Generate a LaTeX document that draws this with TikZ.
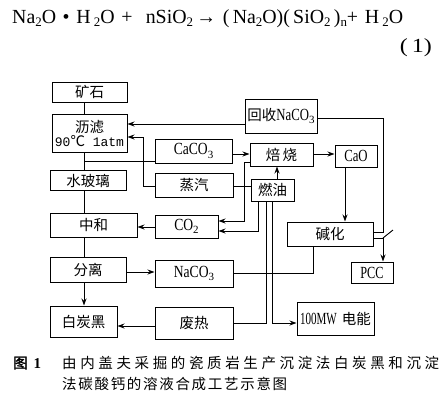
\documentclass[tikz,border=0pt]{standalone}
\usepackage{fontspec}
\usepackage{graphicx}
\setmainfont{Liberation Serif}
\newfontfamily\cjk{Noto Sans CJK SC}
\newfontfamily\cjkb[FakeBold=2]{Noto Sans CJK SC}
\newfontfamily\mono{Liberation Mono}
\usetikzlibrary{arrows.meta}
\newcommand\sbs[1]{\raisebox{-3.5pt}{\fontsize{11}{11}\selectfont #1}}
\newcommand\esb[1]{\raisebox{-3pt}{\fontsize{13}{13}\selectfont #1}}
\newcommand\lat[2]{\scalebox{#1}[1]{\fontsize{17}{19}\selectfont #2}}
\tikzset{
  bx/.style 2 args={draw, line width=1pt, minimum width=#1, minimum height=#2, inner sep=0pt, font=\fontsize{14.5}{17}\selectfont},
  ln/.style={line width=0.9pt},
  arr/.style={ln, -{Stealth[length=7pt,width=5pt]}}
}
\begin{document}
\begin{tikzpicture}[x=1pt,y=-1pt]
\useasboundingbox (0,0) rectangle (447,400);
\fill[white] (0,0) rectangle (447,400);
% equation
\node[anchor=west, inner sep=0pt] (eq) at (12,19) {\resizebox{391pt}{\height}{\fontsize{20}{22}\selectfont Na\esb{2}O\,\,•\,\,H\,\esb{2}O\,\,+\,\,\,\,nSiO\esb{2}\,→\,\,(\,Na\esb{2}O)(\,SiO\esb{2}\,)\esb{n}+\,\,H\,\esb{2}O}};
\node[anchor=east, inner sep=0pt] (eqn) at (432,48) {\resizebox{32pt}{\height}{\fontsize{20}{22}\selectfont (\,1)}};
% boxes
\node[bx={75pt}{20pt}] (kuang) at (89.5,92) {\cjk 矿石};
\node[bx={75pt}{38pt}, align=center] (lilv) at (89.5,133) {{\cjk 沥滤}\\[-3pt]{\mono\fontsize{13}{15}\selectfont 90}{\cjk ℃}{\mono\fontsize{13}{15}\selectfont\ 1atm}};
\node[bx={76pt}{20pt}] (shui) at (88,180.5) {\cjk 水玻璃};
\node[bx={87pt}{24pt}] (zhonghe) at (93.5,225) {\cjk 中和};
\node[bx={76pt}{25pt}] (fenli) at (88,269.5) {\cjk 分离};
\node[bx={67pt}{31pt}] (baitan) at (83.5,321.5) {\cjk 白炭黑};
\node[bx={77pt}{24pt}] (caco) at (193.5,151) {\lat{0.8}{CaCO}\sbs{3}};
\node[bx={78pt}{24pt}] (zhengqi) at (194,185) {\cjk 蒸汽};
\node[bx={63pt}{23pt}] (co2) at (186.5,226.5) {\lat{0.8}{CO}\sbs{2}};
\node[bx={78pt}{27pt}] (nacoo) at (194,273.5) {\lat{0.8}{NaCO}\sbs{3}};
\node[bx={78pt}{32pt}] (feire) at (194,323) {\cjk 废热};
\node[bx={72pt}{34pt}] (huishou) at (281,116) {{\cjk 回收}\lat{0.75}{NaCO}\sbs{3}};
\node[bx={63pt}{23pt}] (beishao) at (281.5,154.5) {\cjk 焙\,烧};
\node[bx={43pt}{22pt}] (ranyou) at (272.5,190) {\cjk 燃油};
\node[bx={42pt}{22pt}] (cao) at (356,156) {\lat{0.75}{CaO}};
\node[bx={86pt}{24pt}] (jianhua) at (330,234) {\cjk 碱化};
\node[bx={42pt}{21pt}] (pcc) at (372,272.5) {\lat{0.72}{PCC}};
\node[bx={77pt}{33pt}] (dian) at (335.5,318.5) {\lat{0.65}{100MW}\hspace{5pt}{\cjk 电能}};
% spine
\coordinate (j1) at (84,161);
\draw[ln] (kuang.south -| 84,0) -- (lilv.north -| 84,0);
\draw[ln] (lilv.south -| 84,0) -- (shui.north -| 84,0);
\draw[ln] (shui.south -| 84,0) -- (zhonghe.north -| 84,0);
\draw[ln] (zhonghe.south -| 84,0) -- (fenli.north -| 84,0);
\draw[arr] (fenli.south -| 84,0) -- (baitan.north -| 84,0);
\draw[ln] (j1) -- (caco.west |- j1);
% left arrows
\draw[arr] (huishou.west |- 0,124) -- (lilv.east |- 0,124);
\draw[arr] (zhengqi.west |- 0,186) -- (143,186) -- (143,137) -- (lilv.east |- 0,137);
\draw[arr] (co2.west |- 0,227) -- (zhonghe.east |- 0,227);
\draw[arr] (fenli.east |- 0,272) -- (nacoo.west |- 0,272);
\draw[arr] (feire.west |- 0,326) -- (baitan.east |- 0,326);
% middle
\draw[arr] (caco.east |- 0,154) -- (beishao.west |- 0,154);
\draw[arr] (beishao.east |- 0,154) -- (cao.west |- 0,154);
\draw[arr] (ranyou.north -| 277,0) -- (beishao.south -| 277,0);
\draw[ln] (zhengqi.east |- 0,186) -- (ranyou.west |- 0,186);
\draw[arr] (beishao.west |- 0,162) -- (244,162) -- (244,221) -- (co2.east |- 0,221);
\draw[arr] (ranyou.south -| 258,0) -- (258,231) -- (co2.east |- 0,231);
\draw[ln] (ranyou.south -| 266,0) -- (266,323) -- (feire.east |- 0,323);
\draw[arr] (ranyou.south -| 272,0) -- (272,323) -- (dian.west |- 0,323);
% right
\draw[ln] (nacoo.east |- 0,273) -- (313,273) -- (jianhua.south -| 313,0);
\draw[arr] (cao.south -| 345,0) -- (jianhua.north -| 345,0);
\draw[ln] (huishou.east |- 0,118) -- (383,118) -- (383,232) -- (jianhua.east |- 0,232);
\coordinate (sw) at (383,238);
\draw[arr] (jianhua.east |- sw) -- (sw) -- (pcc.north -| sw);
\draw[ln] (sw) -- ++(10,-8);
% caption
\node[anchor=west, inner sep=0pt] (fig) at (13,363) {{\cjkb\fontsize{14.5}{16}\selectfont 图}\hspace{6pt}{\bfseries\fontsize{15}{16}\selectfont 1}};
\node[anchor=west, inner sep=0pt] (cap1) at (62,363) {\cjk\fontsize{14.5}{16}\selectfont\hbox to 377pt{由\hfill 内\hfill 盖\hfill 夫\hfill 采\hfill 掘\hfill 的\hfill 瓷\hfill 质\hfill 岩\hfill 生\hfill 产\hfill 沉\hfill 淀\hfill 法\hfill 白\hfill 炭\hfill 黑\hfill 和\hfill 沉\hfill 淀}};
\node[anchor=west, inner sep=0pt] (cap2) at (62,384) {\cjk\fontsize{14.5}{16}\selectfont\hbox to 225pt{法\hfill 碳\hfill 酸\hfill 钙\hfill 的\hfill 溶\hfill 液\hfill 合\hfill 成\hfill 工\hfill 艺\hfill 示\hfill 意\hfill 图}};
\end{tikzpicture}
\end{document}
